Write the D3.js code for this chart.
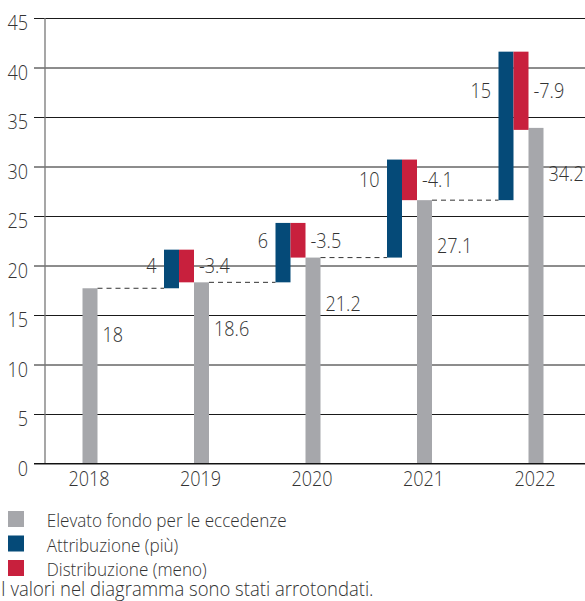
<!DOCTYPE html>
<html>
<head>
<meta charset="utf-8">
<script src="https://cdn.jsdelivr.net/npm/d3@7"></script>
<style>
  html, body { margin: 0; padding: 0; background: #fff; }
  svg { display: block; }
  text { font-family: "Open Sans", "Noto Sans", sans-serif; font-weight: 300; fill: #333; }
</style>
</head>
<body>
<svg id="chart" width="585" height="601"></svg>
<script>
// ---- data ----
const years = ["2018", "2019", "2020", "2021", "2022"];
const fund = [17.7, 18.3, 20.8, 26.6, 33.9];              // Elevato fondo per le eccedenze (bar heights)
const fundLabels = ["18", "18.6", "21.2", "27.1", "34.2"];
const attribution = [null, 3.9, 6.0, 9.9, 15.0];          // Attribuzione (più)
const attributionLabels = ["", "4", "6", "10", "15"];
const distribution = [null, -3.3, -3.5, -4.1, -7.9];      // Distribuzione (meno)
const distributionLabels = ["", "-3.4", "-3.5", "-4.1", "-7.9"];
const yTicks = [0, 5, 10, 15, 20, 25, 30, 35, 40, 45];
const legendItems = ["Elevato fondo per le eccedenze", "Attribuzione (più)", "Distribuzione (meno)"];
const note = "I valori nel diagramma sono stati arrotondati.";

// ---- styles ----
const colGray = "#a6a7ab", colBlue = "#054a78", colRed = "#c8203d";
const legendColors = [colGray, colBlue, colRed];
const fs = 20.5, sx = 0.88;

const svg = d3.select("#chart");
const axisX = 45, gridLeft = 34, right = 585;
const y = d3.scaleLinear().domain([0, 45]).range([463.5, 18]);
const x = d3.scalePoint().domain(years).range([90, 536]);
const bw = 15;

function label(g, tx, ty, str, anchor, size, scx) {
  return g.append("text")
    .attr("transform", `translate(${tx},${ty}) scale(${scx || sx},1)`)
    .attr("text-anchor", anchor)
    .style("font-size", (size || fs) + "px")
    .text(str);
}

// gridlines + y axis
const yAxis = d3.axisLeft(y).tickValues(yTicks).tickSize(-(right - gridLeft)).tickPadding(6).tickFormat(d3.format("d"));
const ga = svg.append("g").attr("transform", `translate(${gridLeft},0)`).call(yAxis);
ga.select(".domain").remove();
ga.selectAll(".tick line").attr("stroke", "#1a1a1a").attr("stroke-width", 1);
ga.selectAll(".tick text").each(function(d) {
  d3.select(this).attr("x", null).attr("dy", null)
   .attr("transform", `translate(-6,${fs * 0.57}) scale(${sx},1)`)
   .attr("text-anchor", "end")
   .attr("fill", null)
   .style("font-size", fs + "px");
});
ga.attr("font-family", null).attr("font-size", null);

// vertical axis line
svg.append("line").attr("x1", axisX).attr("x2", axisX).attr("y1", y(45)).attr("y2", y(0))
  .attr("stroke", "#777").attr("stroke-width", 1.3);

const gBars = svg.append("g");
const gLab = svg.append("g");

years.forEach((yr, i) => {
  const cx = x(yr);
  // gray fund bar
  gBars.append("rect").attr("x", cx - bw / 2).attr("width", bw)
    .attr("y", y(fund[i])).attr("height", y(0) - y(fund[i])).attr("fill", colGray);
  label(gLab, cx + bw / 2 + 5, y(fund[i]) + 46 + fs * 0.357, fundLabels[i], "start");

  if (attribution[i] != null) {
    const start = fund[i - 1];
    const top = start + attribution[i];
    const bottom = top + distribution[i];
    // dashed connector from previous gray bar
    gBars.append("line")
      .attr("x1", x(years[i - 1]) + bw / 2).attr("x2", cx - bw / 2 - 2 * bw)
      .attr("y1", y(start)).attr("y2", y(start))
      .attr("stroke", "#333").attr("stroke-width", 1).attr("stroke-dasharray", "5,4");
    gBars.append("rect").attr("x", cx - bw / 2 - 2 * bw).attr("width", bw)
      .attr("y", y(top)).attr("height", y(start) - y(top)).attr("fill", colBlue);
    gBars.append("rect").attr("x", cx - bw / 2 - bw).attr("width", bw)
      .attr("y", y(top)).attr("height", y(bottom) - y(top)).attr("fill", colRed);
    const midY = (y(top) + y(bottom)) / 2 + fs * 0.357;
    label(gLab, cx - bw / 2 - 2 * bw - 7.5, midY, attributionLabels[i], "end");
    label(gLab, cx - bw / 2 + 5, midY, distributionLabels[i], "start");
  }
});

// x axis baseline
svg.append("line").attr("x1", gridLeft).attr("x2", right).attr("y1", y(0)).attr("y2", y(0))
  .attr("stroke", "#111").attr("stroke-width", 1.2);

// year labels
years.forEach(yr => label(gLab, x(yr) - 1, 479 + fs * 0.357, yr, "middle"));

// legend
const lg = svg.append("g");
legendItems.forEach((t, i) => {
  const yy = 511 + i * 24.5;
  lg.append("rect").attr("x", 8).attr("y", yy).attr("width", 16).attr("height", 16).attr("fill", legendColors[i]);
  label(lg, 46.7, yy + 16.3, t, "start", 19, 0.9);
});
label(lg, 1, 596, note, "start", 19.5, 0.95);
</script>
</body>
</html>
